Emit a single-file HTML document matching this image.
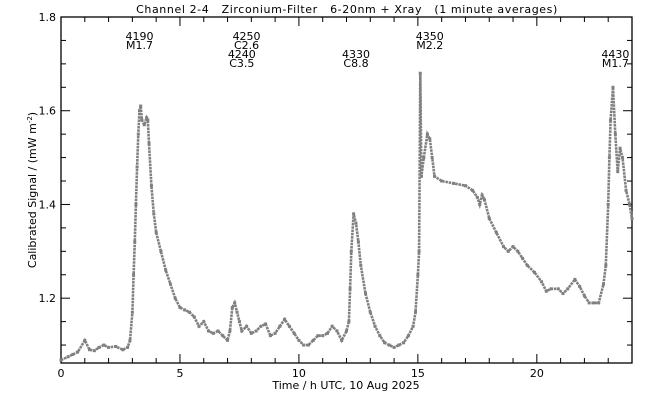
<!DOCTYPE html>
<html><head><meta charset="utf-8"><style>
body{margin:0;background:#fff}
svg text{font-family:"DejaVu Sans","Liberation Sans",sans-serif;font-size:11px;fill:#000}
</style></head><body>
<svg id="chart" width="650" height="400" viewBox="0 0 650 400" xmlns="http://www.w3.org/2000/svg">
<text x="347" y="13" text-anchor="middle" font-size="12" letter-spacing="0.6" xml:space="preserve">Channel 2-4   Zirconium-Filter   6-20nm + Xray   (1 minute averages)</text>
<text x="346" y="389" text-anchor="middle" font-size="10">Time / h UTC, 10 Aug 2025</text>
<text transform="translate(36,190) rotate(-90)" text-anchor="middle" font-size="10">Calibrated Signal / (mW m<tspan dy="-4" font-size="7">-2</tspan><tspan dy="4">)</tspan></text>
<g id="axes"></g>
<g id="marks"></g>
<g id="ann"></g>
</svg>
<script>
const times=[0,0.3,0.5,0.7,1.0,1.2,1.4,1.6,1.8,2.0,2.3,2.6,2.8,2.9,3.0,3.05,3.1,3.15,3.2,3.25,3.3,3.35,3.4,3.5,3.6,3.65,3.7,3.8,3.9,4.0,4.2,4.4,4.6,4.8,5.0,5.2,5.4,5.6,5.8,6.0,6.2,6.4,6.6,6.8,7.0,7.1,7.2,7.3,7.4,7.5,7.6,7.8,8.0,8.2,8.4,8.6,8.8,9.0,9.2,9.4,9.6,9.8,10.0,10.2,10.4,10.6,10.8,11.0,11.2,11.4,11.6,11.8,12.0,12.1,12.15,12.2,12.3,12.4,12.5,12.6,12.8,13.0,13.2,13.4,13.6,13.8,14.0,14.2,14.4,14.6,14.8,14.9,15.0,15.05,15.1,15.15,15.25,15.4,15.5,15.6,15.7,16.0,16.5,17.0,17.3,17.5,17.6,17.7,17.8,18.0,18.3,18.6,18.8,19.0,19.2,19.4,19.6,19.9,20.2,20.4,20.6,20.9,21.1,21.3,21.6,21.8,22.0,22.2,22.4,22.6,22.8,22.9,23.0,23.05,23.1,23.2,23.3,23.4,23.5,23.6,23.75,23.9,24.0];
const signal=[1.068,1.075,1.08,1.085,1.11,1.09,1.088,1.095,1.10,1.095,1.097,1.09,1.095,1.11,1.17,1.25,1.32,1.40,1.48,1.55,1.60,1.61,1.58,1.57,1.585,1.58,1.53,1.44,1.38,1.34,1.30,1.26,1.23,1.20,1.18,1.175,1.17,1.16,1.14,1.15,1.13,1.125,1.13,1.12,1.11,1.13,1.18,1.19,1.17,1.15,1.13,1.14,1.125,1.13,1.14,1.145,1.12,1.125,1.14,1.155,1.14,1.125,1.11,1.10,1.10,1.11,1.12,1.12,1.125,1.14,1.13,1.11,1.13,1.15,1.22,1.30,1.38,1.36,1.32,1.27,1.21,1.17,1.14,1.12,1.105,1.10,1.095,1.10,1.105,1.12,1.14,1.17,1.25,1.30,1.68,1.46,1.50,1.55,1.54,1.50,1.46,1.45,1.445,1.44,1.43,1.415,1.40,1.42,1.41,1.37,1.34,1.31,1.30,1.31,1.30,1.285,1.27,1.255,1.235,1.215,1.22,1.22,1.21,1.22,1.24,1.225,1.205,1.19,1.19,1.19,1.23,1.27,1.40,1.50,1.58,1.65,1.55,1.47,1.52,1.50,1.43,1.40,1.37];
const xTickLabels=["0","5","10","15","20"];
const yTickLabels=["1.2","1.4","1.6","1.8"];
const annNum=["4190","4250","4240","4330","4350","4430"];
const annClass=["M1.7","C2.6","C3.5","C8.8","M2.2","M1.7"];
const annTime=[3.3,7.8,7.6,12.4,15.5,23.3];
const annRow=[0,0,1,1,0,1];

const X0=61,X1=632,Y0=363,Y1=17;
const xs=t=>X0+(X1-X0)*t/24;
const ys=v=>Y0-(Y0-Y1)*(v-1.0617)/(1.8-1.0617);
const NS="http://www.w3.org/2000/svg";
function mk(tag,attrs,parent){const e=document.createElementNS(NS,tag);for(const k in attrs)e.setAttribute(k,attrs[k]);parent.appendChild(e);return e;}
const ax=document.getElementById('axes');
const frame=mk('rect',{x:X0,y:Y1,width:X1-X0,height:Y0-Y1,fill:'none',stroke:'#000','stroke-width':1.3},ax);


for(let h=0;h<=24;h++){
  const L=h%5===0?9:5;const x=xs(h);
  mk('line',{x1:x,x2:x,y1:Y0,y2:Y0-L,stroke:'#000'},ax);
  mk('line',{x1:x,x2:x,y1:Y1,y2:Y1+L,stroke:'#000'},ax);
}
xTickLabels.forEach(s=>{const t=mk('text',{x:xs(+s),y:Y0+14,'text-anchor':'middle','font-size':10},ax);t.textContent=s;

});
for(let i=0;i<=14;i++){const v=1.1+i*0.05;if(v>1.8001)break;const y=ys(v);const major=Math.abs((v*10)%2)<0.01||Math.abs((v*10)%2-2)<0.01;const L=major?9:5;
  mk('line',{x1:X0,x2:X0+L,y1:y,y2:y,stroke:'#000'},ax);
  mk('line',{x1:X1,x2:X1-L,y1:y,y2:y,stroke:'#000'},ax);}
yTickLabels.forEach(s=>{const t=mk('text',{x:X0-5,y:ys(+s)+4,'text-anchor':'end','font-size':10},ax);t.textContent=s;

});
const mg=document.getElementById('marks');
const pts=times.map((t,i)=>xs(t).toFixed(1)+','+ys(signal[i]).toFixed(1)).join(' ');
const pl=mk('polyline',{points:pts,fill:'none',stroke:'#808080','stroke-width':2.6,'stroke-dasharray':'2.5 0.8'},mg);


times.forEach((t,i)=>{const r=mk('rect',{x:xs(t)-1.5,y:ys(signal[i])-1.5,width:3,height:3,fill:'#808080'},mg);

});
const ag=document.getElementById('ann');
annNum.forEach((n,i)=>{const x=xs(annTime[i]);const y=annRow[i]?58:40;
 const a=mk('text',{x:x,y:y,'text-anchor':'middle','font-size':9.5},ag);a.textContent=n;
 
 
 const b=mk('text',{x:x,y:y+9,'text-anchor':'middle','font-size':9.5},ag);b.textContent=annClass[i];
 
 });
</script>
</body></html>
